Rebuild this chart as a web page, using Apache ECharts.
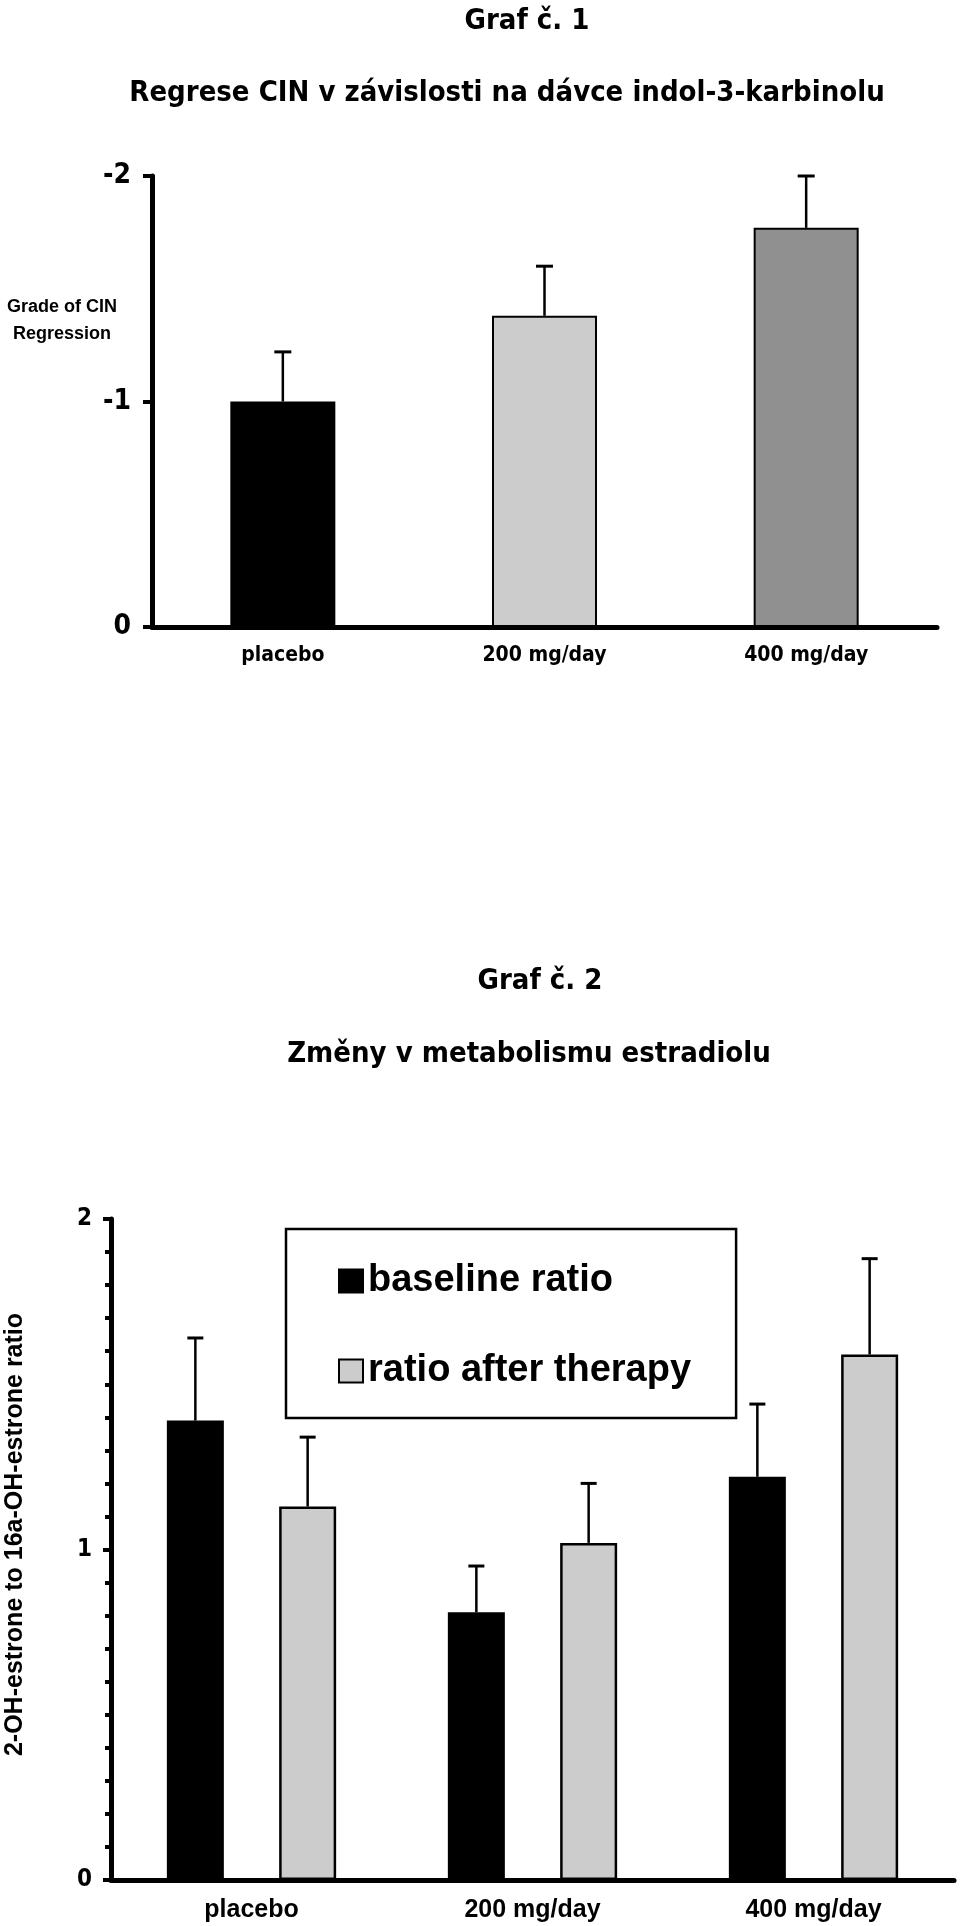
<!DOCTYPE html>
<html>
<head>
<meta charset="utf-8">
<script src="https://cdn.jsdelivr.net/npm/echarts@6/dist/echarts.min.js"></script>
<style>
  html, body { margin: 0; padding: 0; background: #fff; }
  #chart { width: 960px; height: 1926px; }
</style>
</head>
<body>
<div id="chart"></div>
<script>
// graf 1 - regrese CIN
const doseCats = ['placebo', '200 mg/day', '400 mg/day']
const cinGrade = [-1.0, -1.38, -1.77]
const cinErr = [0.22, 0.22, 0.23]
const cinTicks = [-2, -1, 0]

// graf 2 - estradiol
const baselineRatio = [1.39, 0.81, 1.22]
const baselineErr = [0.25, 0.14, 0.22]
const afterRatio = [1.13, 1.02, 1.59]
const afterErr = [0.21, 0.18, 0.29]
const ratioTicks = [0, 1, 2]

const cinColors = ['#000000', '#cccccc', '#909090']
const narrow = "'Liberation Sans Narrow', 'DejaVu Sans Condensed', sans-serif"
const arial = "'Liberation Sans', Arial, sans-serif"
const titleFont = "'DejaVu Sans Condensed', 'DejaVu Sans', sans-serif"

const BAR2_W = 57
const BAR2_GAP = 0.97

function errorBar(offset, capHalf) {
  return function (params, api) {
    const cat = api.value(0)
    const p0 = api.coord([cat, api.value(1)])
    const p1 = api.coord([cat, api.value(2)])
    const x = p0[0] + offset
    return {
      type: 'group',
      children: [
        {type: 'line', shape: {x1: x, y1: p0[1], x2: x, y2: p1[1]}, style: {stroke: '#000', lineWidth: 2.5}},
        {type: 'line', shape: {x1: x - capHalf, y1: p1[1], x2: x + capHalf, y2: p1[1]}, style: {stroke: '#000', lineWidth: 3}}
      ]
    }
  }
}

const mychart = echarts.init(document.getElementById('chart'), null, {renderer: 'canvas'})
const off2 = (BAR2_W + BAR2_W * BAR2_GAP) / 2

const option = {
  backgroundColor: '#fff',
  animation: false,
  graphic: [
    {type: 'text', x: 527, y: 21, style: {text: 'Graf č. 1', font: "bold 29px " + titleFont, fill: '#000', textAlign: 'center', textVerticalAlign: 'middle'}},
    {type: 'text', x: 507, y: 93, style: {text: 'Regrese CIN v závislosti na dávce indol-3-karbinolu', font: "bold 29px " + titleFont, fill: '#000', textAlign: 'center', textVerticalAlign: 'middle'}},
    {type: 'text', x: 62, y: 321, style: {text: 'Grade of CIN\nRegression', font: "bold 18px " + arial, lineHeight: 27, fill: '#000', textAlign: 'center', textVerticalAlign: 'middle'}},
    {type: 'text', x: 540, y: 981, style: {text: 'Graf č. 2', font: "bold 29px " + titleFont, fill: '#000', textAlign: 'center', textVerticalAlign: 'middle'}},
    {type: 'text', x: 529, y: 1054, style: {text: 'Změny v metabolismu estradiolu', font: "bold 29px " + titleFont, fill: '#000', textAlign: 'center', textVerticalAlign: 'middle'}}
  ],
  legend: {
    data: ['baseline ratio', 'ratio after therapy'],
    orient: 'vertical',
    left: 286,
    top: 1229,
    padding: [33, 45, 28, 52],
    itemGap: 52,
    itemWidth: 24,
    itemHeight: 23,
    itemTextGap: 13,
    icon: 'rect',
    selectedMode: false,
    borderColor: '#000',
    borderWidth: 2.5,
    textStyle: {fontFamily: arial, fontWeight: 'bold', fontSize: 38, color: '#000'}
  },
  grid: [
    {left: 152, top: 176, width: 785, height: 451, outerBoundsMode: 'none'},
    {left: 111, top: 1219, width: 843, height: 661, outerBoundsMode: 'none'}
  ],
  xAxis: [
    {
      gridIndex: 0,
      type: 'category',
      data: doseCats,
      axisLine: {lineStyle: {color: '#000', width: 5}},
      axisTick: {show: false},
      axisLabel: {color: '#000', fontFamily: narrow, fontWeight: 'bold', fontSize: 21, margin: 18}
    },
    {
      gridIndex: 1,
      type: 'category',
      data: doseCats,
      axisLine: {lineStyle: {color: '#000', width: 5}},
      axisTick: {show: false},
      axisLabel: {color: '#000', fontFamily: arial, fontWeight: 'bold', fontSize: 25, margin: 18}
    }
  ],
  yAxis: [
    {
      gridIndex: 0,
      type: 'value',
      inverse: true,
      min: cinTicks[0],
      max: cinTicks[cinTicks.length - 1],
      interval: 1,
      splitLine: {show: false},
      axisLine: {show: true, lineStyle: {color: '#000', width: 5}},
      axisTick: {show: true, length: 9, lineStyle: {color: '#000', width: 4}},
      axisLabel: {color: '#000', fontFamily: narrow, fontWeight: 'bold', fontSize: 28, margin: 21}
    },
    {
      gridIndex: 1,
      type: 'value',
      min: ratioTicks[0],
      max: ratioTicks[ratioTicks.length - 1],
      interval: 1,
      splitLine: {show: false},
      axisLine: {show: true, lineStyle: {color: '#000', width: 5}},
      axisTick: {show: true, length: 8, lineStyle: {color: '#000', width: 4}},
      minorTick: {show: true, splitNumber: 10, length: 6, lineStyle: {color: '#000', width: 4}},
      axisLabel: {color: '#000', fontFamily: narrow, fontWeight: 'bold', fontSize: 24, margin: 19},
      name: '2-OH-estrone to 16a-OH-estrone ratio',
      nameLocation: 'middle',
      nameGap: 83,
      nameTextStyle: {color: '#000', fontFamily: arial, fontWeight: 'bold', fontSize: 25, padding: [0, 0, 0, 30]}
    }
  ],
  series: [
    {
      name: 'CIN',
      type: 'bar',
      xAxisIndex: 0,
      yAxisIndex: 0,
      barWidth: 105,
      data: cinGrade.map((v, i) => ({value: v, itemStyle: {color: cinColors[i]}})),
      itemStyle: {borderColor: '#000', borderWidth: 2}
    },
    {
      name: 'CIN err',
      type: 'custom',
      xAxisIndex: 0,
      yAxisIndex: 0,
      renderItem: errorBar(0, 8.5),
      data: cinGrade.map((v, i) => [i, v, v - cinErr[i]]),
      z: 1
    },
    {
      name: 'baseline ratio',
      type: 'bar',
      xAxisIndex: 1,
      yAxisIndex: 1,
      barWidth: BAR2_W,
      barGap: (BAR2_GAP * 100) + '%',
      data: baselineRatio,
      itemStyle: {color: '#000', borderColor: '#000', borderWidth: 2}
    },
    {
      name: 'ratio after therapy',
      type: 'bar',
      xAxisIndex: 1,
      yAxisIndex: 1,
      barWidth: BAR2_W,
      barGap: (BAR2_GAP * 100) + '%',
      data: afterRatio,
      itemStyle: {color: '#cccccc', borderColor: '#000', borderWidth: 2.5}
    },
    {
      name: 'baseline err',
      type: 'custom',
      xAxisIndex: 1,
      yAxisIndex: 1,
      renderItem: errorBar(-off2, 8),
      data: baselineRatio.map((v, i) => [i, v, v + baselineErr[i]]),
      z: 1
    },
    {
      name: 'after err',
      type: 'custom',
      xAxisIndex: 1,
      yAxisIndex: 1,
      renderItem: errorBar(off2, 8),
      data: afterRatio.map((v, i) => [i, v, v + afterErr[i]]),
      z: 1
    }
  ]
}

mychart.setOption(option)
window.onresize = function () {
  mychart.resize()
}
</script>
</body>
</html>
